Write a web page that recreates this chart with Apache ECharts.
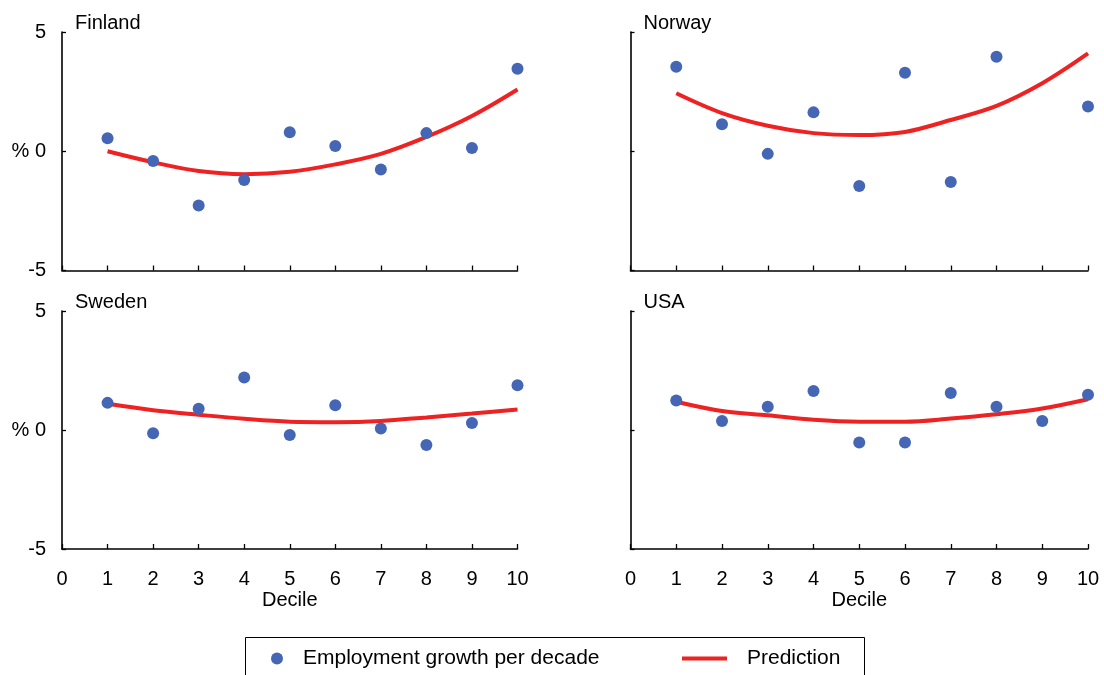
<!DOCTYPE html>
<html><head><meta charset="utf-8">
<script src="https://cdn.jsdelivr.net/npm/echarts@6/dist/echarts.min.js"></script>
<style>html,body{margin:0;padding:0;background:#fff}#c{width:1104px;height:675px}</style>
</head><body><div id="c"></div>
<script>
const deciles = [1, 2, 3, 4, 5, 6, 7, 8, 9, 10];
const xTicks = [0, 1, 2, 3, 4, 5, 6, 7, 8, 9, 10];
const yTicks = [-5, 0, 5];
const countries = ['Finland', 'Norway', 'Sweden', 'USA'];
const finlandGrowth = [0.55, -0.41, -2.27, -1.21, 0.80, 0.22, -0.77, 0.76, 0.14, 3.46];
const finlandPrediction = [0.00, -0.46, -0.83, -0.96, -0.86, -0.55, -0.11, 0.60, 1.48, 2.59];
const norwayGrowth = [3.54, 1.13, -0.11, 1.63, -1.46, 3.29, -1.29, 3.96, null, 1.88];
const norwayPrediction = [2.43, 1.60, 1.07, 0.76, 0.68, 0.81, 1.31, 1.90, 2.85, 4.10];
const swedenGrowth = [1.14, -0.14, 0.89, 2.21, -0.21, 1.04, 0.06, -0.63, 0.29, 1.88];
const swedenPrediction = [1.10, 0.83, 0.64, 0.47, 0.35, 0.33, 0.38, 0.53, 0.69, 0.86];
const usaGrowth = [1.24, 0.38, 0.98, 1.64, -0.53, -0.53, 1.55, 0.98, 0.38, 1.48];
const usaPrediction = [1.19, 0.80, 0.62, 0.43, 0.35, 0.35, 0.48, 0.66, 0.90, 1.29];
const growthSeries = [finlandGrowth, norwayGrowth, swedenGrowth, usaGrowth];
const predictionSeries = [finlandPrediction, norwayPrediction, swedenPrediction, usaPrediction];
const growthName = 'Employment growth per decade';
const predName = 'Prediction';

const FONT = 'Liberation Sans, Arial, sans-serif';
const BLUE = '#4466B4';
const RED = '#EE2222';
const grids = [
  {left: 62, top: 32, width: 455.5, height: 238.5},
  {left: 630.5, top: 32, width: 457.5, height: 238.5},
  {left: 62, top: 311, width: 455.5, height: 238},
  {left: 630.5, top: 311, width: 457.5, height: 238}
];

const axisLine = {show: true, onZero: false, lineStyle: {color: '#000', width: 1.6}};
const xAxes = grids.map((g, i) => ({
  type: 'value', gridIndex: i, min: xTicks[0], max: xTicks[xTicks.length - 1], interval: 1,
  axisLine: axisLine,
  axisTick: {show: true, inside: true, length: 5, lineStyle: {color: '#000', width: 1.3}},
  axisLabel: {show: i >= 2, margin: 20, color: '#000', fontSize: 20, fontFamily: FONT,
    showMinLabel: true, showMaxLabel: true},
  splitLine: {show: false},
  name: i >= 2 ? 'Decile' : '', nameLocation: 'middle', nameGap: 41,
  nameTextStyle: {color: '#000', fontSize: 20, fontFamily: FONT}
}));
const yAxes = grids.map((g, i) => ({
  type: 'value', gridIndex: i, min: yTicks[0], max: yTicks[yTicks.length - 1], interval: 5,
  axisLine: axisLine,
  axisTick: {show: true, inside: true, length: 4, lineStyle: {color: '#000', width: 1.3}},
  axisLabel: {show: i % 2 === 0, margin: 16, color: '#000', fontSize: 20, fontFamily: FONT,
    formatter: v => (v === 0 ? '% 0' : String(v))},
  splitLine: {show: false}
}));

const series = [];
countries.forEach((c, i) => {
  series.push({
    name: growthName, type: 'scatter', xAxisIndex: i, yAxisIndex: i,
    symbol: 'circle', symbolSize: 12, itemStyle: {color: BLUE, opacity: 1}, z: 3,
    data: deciles.map((d, k) => [d, growthSeries[i][k]])
  });
  series.push({
    name: predName, type: 'line', xAxisIndex: i, yAxisIndex: i,
    symbol: 'none', smooth: 0.35, lineStyle: {color: RED, width: 4}, itemStyle: {color: RED}, z: 2,
    data: deciles.map((d, k) => [d, predictionSeries[i][k]])
  });
});

const titles = countries.map((c, i) => ({
  text: c, left: grids[i].left + 13, top: grids[i].top - 19, padding: 0,
  textStyle: {color: '#000', fontSize: 20, fontWeight: 'normal', fontFamily: FONT}
}));

const chart = echarts.init(document.getElementById('c'), null, {renderer: 'canvas'});
chart.setOption({
  animation: false,
  backgroundColor: '#fff',
  title: titles,
  grid: grids,
  xAxis: xAxes,
  yAxis: yAxes,
  legend: [
    {data: [{name: growthName, icon: 'circle', itemStyle: {color: BLUE, opacity: 1}}],
      left: 271, top: 648, padding: 0,
      itemWidth: 12, itemHeight: 12,
      formatter: n => '{a|' + n + '}',
      textStyle: {rich: {a: {fontSize: 21, fontFamily: FONT, color: '#000', padding: [0, 0, 0, 15]}}}},
    {data: [{name: predName, icon: 'rect', itemStyle: {color: RED}}],
      left: 682, top: 648, padding: 0,
      itemWidth: 45, itemHeight: 4,
      formatter: n => '{a|' + n + '}',
      textStyle: {rich: {a: {fontSize: 21, fontFamily: FONT, color: '#000', padding: [0, 0, 0, 15]}}}}
  ],
  graphic: [{type: 'rect', shape: {x: 245.5, y: 637.5, width: 619, height: 60},
    style: {fill: 'none', stroke: '#000', lineWidth: 1}, silent: true}],
  series: series
});
</script></body></html>
